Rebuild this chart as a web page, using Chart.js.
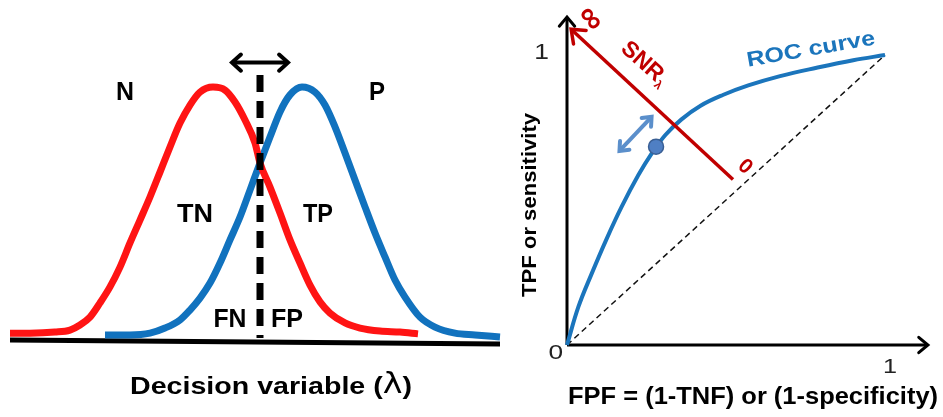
<!DOCTYPE html>
<html>
<head>
<meta charset="utf-8">
<script src="https://cdn.jsdelivr.net/npm/chart.js@4.4.0/dist/chart.umd.min.js"></script>
<style>
html, body { margin: 0; padding: 0; background: #fff; }
#wrap { position: relative; width: 943px; height: 417px; overflow: hidden; }
#distChart { position: absolute; left: 0; top: 0; }
#rocChart { position: absolute; left: 510px; top: 0; }
</style>
</head>
<body>
<div id="wrap">
  <canvas id="distChart" width="510" height="417"></canvas>
  <canvas id="rocChart" width="433" height="417"></canvas>
</div>
<script>
// decision variable (lambda) and density of the negative (N) population
var lambdaN = [-5.0, -4.6, -4.1, -3.8, -3.6, -3.4, -3.2, -3.0, -2.8, -2.6, -2.4, -2.2, -2.0, -1.8, -1.6, -1.4, -1.2, -0.94,
  -0.7, -0.5, -0.3, -0.1, 0, 0.2, 0.4, 0.6, 0.8, 1.0, 1.2, 1.4, 1.7, 2.0, 2.4, 2.8, 3.16];
var densityN = [0.031, 0.031, 0.035, 0.043, 0.063, 0.094, 0.150, 0.213, 0.291, 0.386, 0.476, 0.567, 0.665, 0.764, 0.858, 0.929, 0.980, 1.0,
  0.988, 0.941, 0.870, 0.780, 0.701, 0.606, 0.504, 0.398, 0.307, 0.220, 0.154, 0.110, 0.071, 0.051, 0.039, 0.035, 0.028];

// positive (P) population
var lambdaP = [-3.1, -2.6, -2.2, -1.9, -1.6, -1.4, -1.2, -1.0, -0.8, -0.6, -0.4, -0.2, 0, 0.2, 0.4, 0.6, 0.84,
  1.1, 1.3, 1.5, 1.7, 1.9, 2.1, 2.3, 2.5, 2.7, 2.9, 3.2, 3.5, 3.9, 4.3, 4.8];
var densityP = [0.024, 0.024, 0.031, 0.051, 0.083, 0.122, 0.169, 0.228, 0.307, 0.398, 0.488, 0.594, 0.701, 0.803, 0.902, 0.969, 1.0,
  0.980, 0.929, 0.843, 0.740, 0.634, 0.528, 0.425, 0.331, 0.240, 0.173, 0.094, 0.055, 0.031, 0.024, 0.016];

var threshold = 0;

// ROC curve
var rocFPF = [0, 0.036, 0.078, 0.125, 0.172, 0.224, 0.266, 0.31, 0.36, 0.42, 0.49, 0.57, 0.67, 0.785, 0.90, 1];
var rocTPF = [0, 0.132, 0.247, 0.367, 0.477, 0.585, 0.660, 0.725, 0.778, 0.825, 0.862, 0.895, 0.927, 0.956, 0.982, 1];
var operatingPoint = [0.280, 0.684];
var chanceLine = [[0, 0], [1, 1]];
var snrLine = [[0.522, 0.571], [0.013, 1.089]];
var shiftArrow = [[0.165, 0.669], [0.266, 0.787]];

var tickLabels = ['0', '1'];

function pts(xs, ys) {
  return xs.map(function(x, i) { return {x: x, y: ys[i]}; });
}
function pairs(list) {
  return list.map(function(p) { return {x: p[0], y: p[1]}; });
}

function bold(s) { return 'bold ' + s + 'px "Liberation Sans", Arial, sans-serif'; }
function plain(s) { return s + 'px "Liberation Sans", Arial, sans-serif'; }

var arrowPlugin = {
  id: 'arrowHeads',
  afterDatasetsDraw: function(chart) {
    var ctx = chart.ctx;
    chart.data.datasets.forEach(function(ds, i) {
      if (!ds.arrows) return;
      var p = chart.getDatasetMeta(i).data;
      ds.arrows.forEach(function(end) {
        var tip = end === 'end' ? p[p.length - 1] : p[0];
        var from = end === 'end' ? p[p.length - 2] : p[1];
        var ang = Math.atan2(tip.y - from.y, tip.x - from.x);
        var L = ds.arrowSize || 10;
        var spread = (ds.arrowAngle || 40) * Math.PI / 180;
        ctx.save();
        ctx.strokeStyle = ds.borderColor;
        ctx.lineWidth = ds.arrowWidth || ds.borderWidth;
        ctx.lineCap = 'round';
        ctx.lineJoin = 'miter';
        ctx.beginPath();
        ctx.moveTo(tip.x - L * Math.cos(ang - spread), tip.y - L * Math.sin(ang - spread));
        ctx.lineTo(tip.x, tip.y);
        ctx.lineTo(tip.x - L * Math.cos(ang + spread), tip.y - L * Math.sin(ang + spread));
        ctx.stroke();
        ctx.restore();
      });
    });
  }
};

var textPlugin = {
  id: 'texts',
  afterDraw: function(chart) {
    var list = chart.options.plugins.texts.items || [];
    var ctx = chart.ctx;
    list.forEach(function(t) {
      var x = chart.scales.x.getPixelForValue(t.at[0]);
      var y = chart.scales.y.getPixelForValue(t.at[1]);
      ctx.save();
      ctx.translate(x, y);
      if (t.rot) ctx.rotate(t.rot * Math.PI / 180);
      ctx.fillStyle = t.color || '#000';
      ctx.textBaseline = 'middle';
      ctx.textAlign = 'left';
      var parts = t.parts || [{text: t.text, font: t.font}];
      var total = 0;
      parts.forEach(function(pt) { ctx.font = pt.font; total += ctx.measureText(pt.text).width; });
      var sx = t.w ? t.w / total : (t.sx || 1);
      ctx.scale(sx, 1);
      var cx = -total / 2;
      parts.forEach(function(pt) {
        ctx.font = pt.font;
        ctx.fillText(pt.text, cx, pt.dy || 0);
        cx += ctx.measureText(pt.text).width;
      });
      ctx.restore();
    });
  }
};

var RED = '#FF1414';
var BLUE = '#1172BE';
var DARKRED = '#C00000';

new Chart(document.getElementById('distChart'), {
  type: 'line',
  data: {
    datasets: [
      { data: [{x: threshold, y: 1.047}, {x: threshold, y: 0.012}], borderColor: '#000', borderWidth: 7,
        borderDash: [17, 9], borderCapStyle: 'butt', order: 0 },
      { data: [{x: -0.56, y: 1.096}, {x: 0.56, y: 1.096}], borderColor: '#000', borderWidth: 4,
        arrows: ['start', 'end'], arrowSize: 12, arrowAngle: 42, order: 0 },
      { data: pts(lambdaN, densityN), borderColor: RED, borderWidth: 7, cubicInterpolationMode: 'monotone', order: 1 },
      { data: pts(lambdaP, densityP), borderColor: BLUE, borderWidth: 7, cubicInterpolationMode: 'monotone', order: 2 },
      { data: [{x: -5, y: 0.004}, {x: 4.8, y: -0.012}], borderColor: '#000', borderWidth: 5, order: 3 }
    ]
  },
  options: {
    responsive: false, animation: false, devicePixelRatio: 1,
    layout: { padding: { left: 10, right: 10, top: 36.2, bottom: 50.6 } },
    elements: { point: { radius: 0 }, line: { fill: false } },
    datasets: { line: { clip: false } },
    scales: {
      x: { type: 'linear', min: -5, max: 4.8, display: false },
      y: { type: 'linear', min: -0.1, max: 1.2, display: false }
    },
    plugins: {
      legend: { display: false }, tooltip: { enabled: false },
      texts: { items: [
        { text: 'N', at: [-2.7, 0.976], font: bold(25), w: 18 },
        { text: 'P', at: [2.34, 0.976], font: bold(25), w: 16 },
        { text: 'TN', at: [-1.3, 0.496], font: bold(25), w: 36 },
        { text: 'TP', at: [1.16, 0.496], font: bold(25), w: 30 },
        { text: 'FN', at: [-0.6, 0.083], font: bold(25), w: 33 },
        { text: 'FP', at: [0.54, 0.083], font: bold(25), w: 32 },
        { at: [0.22, -0.181], w: 282, parts: [
          { text: 'Decision variable (', font: bold(24) },
          { text: 'λ', font: '28px "DejaVu Sans", sans-serif', dy: -1 },
          { text: ')', font: bold(24) }
        ] }
      ] }
    }
  },
  plugins: [arrowPlugin, textPlugin]
});

new Chart(document.getElementById('rocChart'), {
  type: 'line',
  data: {
    datasets: [
      { data: [operatingPoint].map(function(p) { return {x: p[0], y: p[1]}; }), showLine: false,
        pointRadius: 7.5, pointBackgroundColor: '#4F7FC4', pointBorderColor: '#3A5F94', pointBorderWidth: 1.5, order: 0 },
      { data: pairs(snrLine), borderColor: DARKRED, borderWidth: 3.5, arrows: ['end'], arrowSize: 15, arrowAngle: 38, order: 1 },
      { data: pairs(shiftArrow), borderColor: '#5B8FCB', borderWidth: 4, arrows: ['start', 'end'], arrowSize: 10, arrowAngle: 40, order: 2 },
      { data: pts(rocFPF, rocTPF), borderColor: '#1B75BC', borderWidth: 4, tension: 0.4, order: 3 },
      { data: pairs(chanceLine), borderColor: '#111', borderWidth: 1.5, borderDash: [6, 4], order: 4 },
      { data: [{x: 0, y: 0}, {x: 0, y: 1.131}], borderColor: '#000', borderWidth: 3, arrows: ['end'], arrowSize: 12, arrowAngle: 40, order: 5 },
      { data: [{x: 0, y: 0}, {x: 1.135, y: 0}], borderColor: '#000', borderWidth: 3, arrows: ['end'], arrowSize: 12, arrowAngle: 40, order: 5 }
    ]
  },
  options: {
    responsive: false, animation: false, devicePixelRatio: 1,
    layout: { padding: { left: 41.1, right: 10.3, top: 11.5, bottom: 43 } },
    elements: { point: { radius: 0 }, line: { fill: false } },
    datasets: { line: { clip: false } },
    scales: {
      x: { type: 'linear', min: -0.05, max: 1.15, display: false },
      y: { type: 'linear', min: -0.1, max: 1.15, display: false }
    },
    plugins: {
      legend: { display: false }, tooltip: { enabled: false },
      texts: { items: [
        { text: tickLabels[1], at: [-0.080, 1.006], font: plain(22), sx: 1.2, color: '#222' },
        { text: tickLabels[0], at: [-0.035, -0.028], font: plain(21), sx: 1.25, color: '#222' },
        { text: tickLabels[1], at: [1.016, -0.076], font: plain(21), sx: 1.2, color: '#222' },
        { text: 'TPF or sensitivity', at: [-0.116, 0.483], rot: -90, font: bold(21), w: 184 },
        { text: 'FPF = (1-TNF) or (1-specificity)', at: [0.585, -0.183], font: bold(23), w: 370 },
        { text: 'ROC curve', at: [0.767, 1.018], rot: -10, font: bold(21), w: 130, color: '#1B75BC' },
        { text: '∞', at: [0.073, 1.124], rot: 50, font: bold(33), color: DARKRED },
        { at: [0.244, 0.969], rot: 42, color: DARKRED, parts: [
          { text: 'SNR', font: bold(23) },
          { text: 'λ', font: bold(12), dy: 7 }
        ] },
        { text: '0', at: [0.560, 0.614], rot: 42, font: bold(21), color: DARKRED }
      ] }
    }
  },
  plugins: [arrowPlugin, textPlugin]
});
</script>
</body>
</html>
